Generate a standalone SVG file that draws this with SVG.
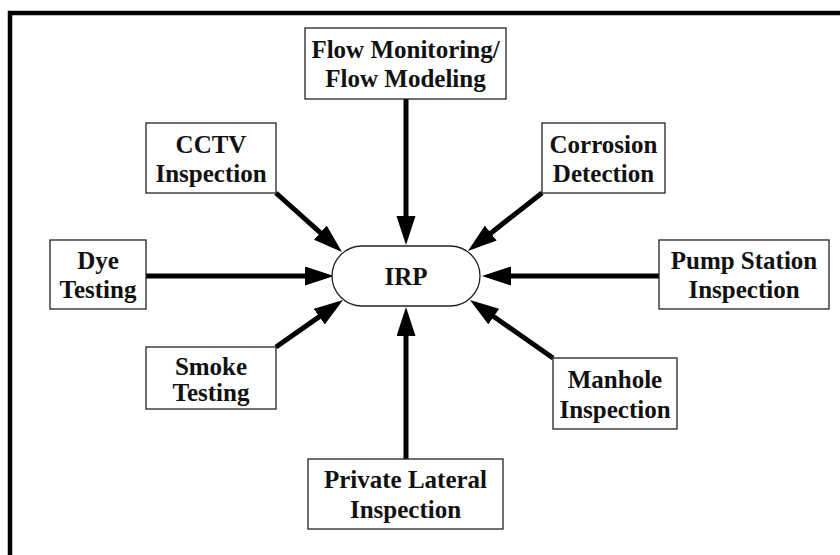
<svg xmlns="http://www.w3.org/2000/svg" width="840" height="555" viewBox="0 0 840 555">
<style>
.box{fill:#fff;stroke:#222;stroke-width:1.3}
.lbl{font-family:"Liberation Serif","Times New Roman",serif;font-weight:bold;font-size:25px;fill:#111;text-anchor:middle}
.con{stroke:#000;stroke-width:5;fill:none;marker-end:url(#ah)}
</style>
<defs>
<marker id="ah" markerUnits="userSpaceOnUse" markerWidth="32" markerHeight="20" refX="1" refY="9.5" orient="auto">
<path d="M0,0 L29,9.5 L0,19 Z" fill="#000"/>
</marker>
</defs>
<rect x="0" y="0" width="840" height="555" fill="#fff"/>
<rect x="10" y="13" width="860" height="580" fill="none" stroke="#000" stroke-width="4.5"/>
<g id="connectors">
<line class="con" x1="406" y1="99" x2="406" y2="217"/>
<line class="con" x1="406" y1="459" x2="406" y2="335"/>
<line class="con" x1="146" y1="276" x2="306" y2="276"/>
<line class="con" x1="659" y1="276" x2="510" y2="276"/>
<line class="con" x1="276" y1="193" x2="321.1" y2="233.3"/>
<line class="con" x1="542" y1="193" x2="490" y2="233.7"/>
<line class="con" x1="276" y1="347" x2="320.1" y2="316.1"/>
<line class="con" x1="553" y1="358" x2="492.9" y2="316"/>
</g>
<g id="irp">
<rect class="box" x="332" y="246" width="148" height="60" rx="30" ry="30"/>
<text class="lbl" x="406" y="285">IRP</text>
</g>
<g id="flow">
<rect class="box" x="305" y="28" width="201" height="71"/>
<text class="lbl" x="405.5" y="58">Flow Monitoring/</text>
<text class="lbl" x="405.5" y="87">Flow Modeling</text>
</g>
<g id="cctv">
<rect class="box" x="146" y="123" width="130" height="70"/>
<text class="lbl" x="211" y="153">CCTV</text>
<text class="lbl" x="211" y="182">Inspection</text>
</g>
<g id="corrosion">
<rect class="box" x="542" y="123" width="123" height="70"/>
<text class="lbl" x="603.5" y="153">Corrosion</text>
<text class="lbl" x="603.5" y="182">Detection</text>
</g>
<g id="dye">
<rect class="box" x="50" y="240" width="96" height="69"/>
<text class="lbl" x="98" y="269">Dye</text>
<text class="lbl" x="98" y="298">Testing</text>
</g>
<g id="pump">
<rect class="box" x="659" y="240" width="170" height="69"/>
<text class="lbl" x="744" y="269">Pump Station</text>
<text class="lbl" x="744" y="298">Inspection</text>
</g>
<g id="smoke">
<rect class="box" x="146" y="347" width="130" height="62"/>
<text class="lbl" x="211" y="375">Smoke</text>
<text class="lbl" x="211" y="401">Testing</text>
</g>
<g id="manhole">
<rect class="box" x="553" y="358" width="124" height="71"/>
<text class="lbl" x="615" y="388">Manhole</text>
<text class="lbl" x="615" y="418">Inspection</text>
</g>
<g id="private">
<rect class="box" x="308" y="459" width="195" height="70"/>
<text class="lbl" x="405.5" y="488">Private Lateral</text>
<text class="lbl" x="405.5" y="518">Inspection</text>
</g>
</svg>
